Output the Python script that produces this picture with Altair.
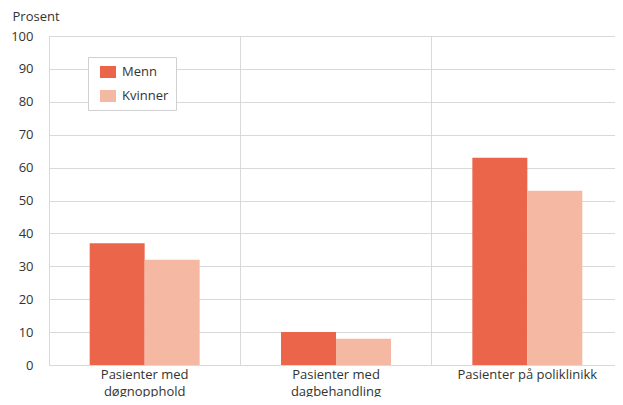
import altair as alt
import pandas as pd

categories = ["Pasienter med døgnopphold", "Pasienter med dagbehandling", "Pasienter på poliklinikk"]
menn = [37, 10, 63]
kvinner = [32, 8, 53]
series = ["Menn", "Kvinner"]
colors = ["#EB654B", "#F5B8A2"]

rows = []
for c, m, k in zip(categories, menn, kvinner):
    rows.append({"kategori": c, "kjønn": "Menn", "verdi": m})
    rows.append({"kategori": c, "kjønn": "Kvinner", "verdi": k})
df = pd.DataFrame(rows)

font = "Open Sans"
nbsp = "\u00a0" * 3

chart = alt.Chart(df).mark_bar().encode(
    x=alt.X("kategori:N", sort=categories, title=None,
            scale=alt.Scale(paddingInner=0, paddingOuter=0),
            axis=alt.Axis(labelAngle=0, grid=True, bandPosition=0, gridColor="#d9d9d9",
                          ticks=False, domain=False, labelPadding=3, labelFontSize=13,
                          labelColor="#333333", labelFont=font, labelLineHeight=17,
                          labelExpr="indexof(datum.value,'poliklinikk')>=0 ? datum.value : ['Pasienter med', replace(datum.value,'Pasienter med ','')]")),
    xOffset=alt.XOffset("kjønn:N", sort=series, scale=alt.Scale(paddingOuter=0.74, paddingInner=0)),
    y=alt.Y("verdi:Q", title="Prosent", scale=alt.Scale(domain=[0, 100]),
            axis=alt.Axis(values=list(range(0, 101, 10)), gridColor="#d9d9d9", domainColor="#d9d9d9",
                          ticks=False, labelPadding=16, labelFontSize=13, labelColor="#333333",
                          labelFont=font, titleAngle=0, titleX=-37, titleY=-13, titleAlign="left",
                          titleFontWeight="normal", titleFontSize=13, titleColor="#333333",
                          titleFont=font)),
    color=alt.Color("kjønn:N", sort=series, title=None,
                    scale=alt.Scale(domain=series, range=colors),
                    legend=alt.Legend(orient="none", legendX=39, legendY=21,
                                      strokeColor="#d0d0d0", fillColor="white", padding=7,
                                      symbolOffset=5, labelExpr="datum.label + '" + nbsp + "'",
                                      symbolType="M-1,-0.75H1V0.75H-1Z", symbolSize=256,
                                      symbolStrokeWidth=0, labelFontSize=13, labelFont=font,
                                      labelColor="#333333", rowPadding=9, labelOffset=6)),
).properties(
    width=574, height=329,
    autosize=alt.AutoSizeParams(type="none"),
    padding={"left": 41, "top": 28, "right": -8, "bottom": 32},
).configure_view(stroke=None)

chart.save("out.html", embed_options={"renderer": "svg", "actions": False})
